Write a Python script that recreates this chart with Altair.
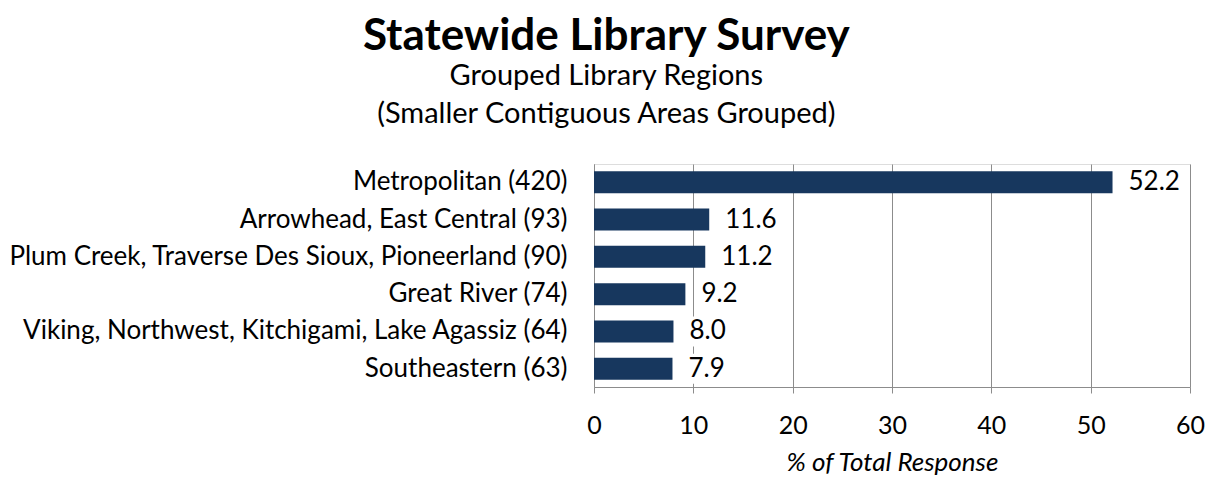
import altair as alt
import pandas as pd

regions = [
    "Metropolitan (420)",
    "Arrowhead, East Central (93)",
    "Plum Creek, Traverse Des Sioux, Pioneerland (90)",
    "Great River (74)",
    "Viking, Northwest, Kitchigami, Lake Agassiz (64)",
    "Southeastern (63)",
]
pct = [52.2, 11.6, 11.2, 9.2, 8.0, 7.9]

df = pd.DataFrame({"region": regions, "pct": pct})

FONT = "Lato"
BAR = "#17375E"
GRID = "#8c8c8c"

y_enc = alt.Y(
    "region:N",
    sort=regions,
    title=None,
    scale=alt.Scale(paddingInner=0.42, paddingOuter=0.2),
    axis=alt.Axis(
        ticks=False,
        labelPadding=27,
        labelFontSize=26,
        labelFont=FONT,
        labelColor="#000000",
        domainColor=GRID,
        labelLimit=800,
        grid=False,
    ),
)
x_enc = alt.X(
    "pct:Q",
    title="% of Total Response",
    scale=alt.Scale(domain=[0, 60], nice=False),
    axis=alt.Axis(
        values=[0, 10, 20, 30, 40, 50, 60],
        format="d",
        grid=True,
        gridColor=GRID,
        domainColor=GRID,
        tickColor=GRID,
        tickSize=6,
        labelPadding=20,
        labelFlush=False,
        labelFontSize=25,
        labelFont=FONT,
        labelColor="#000000",
        titleFont=FONT,
        titleFontSize=26,
        titleFontStyle="italic",
        titleFontWeight="normal",
        titleColor="#000000",
        titlePadding=11,
    ),
)

boxes = alt.Chart(df).mark_bar(color="white", size=30, xOffset=9, x2Offset=60).encode(
    y=y_enc, x=x_enc, x2="pct:Q"
)
bars = alt.Chart(df).mark_bar(color=BAR, size=22).encode(y=y_enc, x=x_enc)
labels = alt.Chart(df).mark_text(
    align="left", baseline="middle", dx=16, font=FONT, fontSize=26, color="#000000"
).encode(y=y_enc, x=x_enc, text=alt.Text("pct:Q", format=".1f"))

chart = (
    alt.layer(boxes, bars, labels)
    .properties(
        width=596,
        height=223,
        title=alt.TitleParams(
            text="Statewide Library Survey",
            subtitle=["Grouped Library Regions", "(Smaller Contiguous Areas Grouped)"],
            font=FONT,
            fontSize=44,
            fontWeight="bold",
            color="#000000",
            subtitleFont=FONT,
            subtitleFontSize=29,
            subtitleColor="#000000",
            subtitleLineHeight=38,
            subtitlePadding=3,
            anchor="middle",
            frame="bounds",
            offset=35,
        ),
        padding={"left": 0, "top": 7, "right": 0, "bottom": 5},
    )
    .configure_view(stroke=None)
    .configure(background="white")
)

chart.save("out.html", embed_options={"renderer": "svg", "actions": False})
